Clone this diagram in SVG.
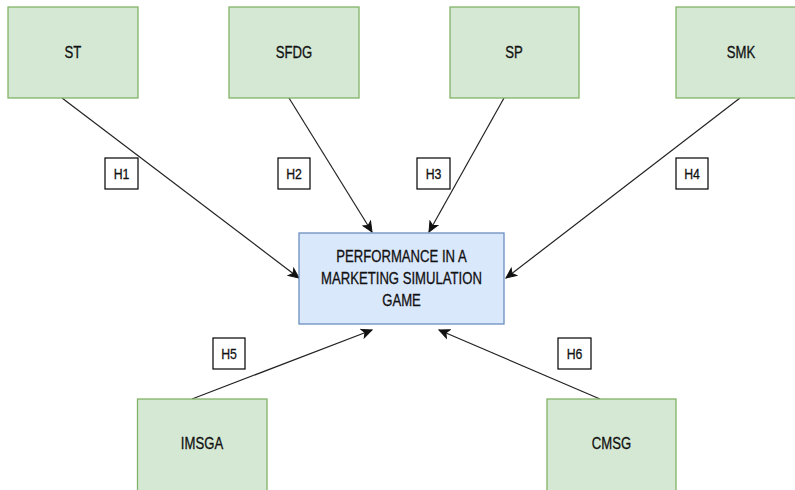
<svg xmlns="http://www.w3.org/2000/svg" width="795" height="490" viewBox="0 0 795 490">
  <style>
    .src { fill: #d5e8d4; stroke: #82b366; stroke-width: 1.3; }
    .tgt { fill: #dae8fc; stroke: #6c8ebf; stroke-width: 1.3; }
    .tag { fill: #ffffff; stroke: #000000; stroke-width: 1.2; }
    .lbl { font-family: "Liberation Sans", Arial, sans-serif; font-size: 16px; fill: #111111; stroke: #111111; stroke-width: 0.3; text-anchor: middle; dominant-baseline: central; }
    .hl { font-family: "Liberation Sans", Arial, sans-serif; font-size: 15px; fill: #111111; stroke: #111111; stroke-width: 0.3; text-anchor: middle; dominant-baseline: central; }
    .edge { stroke: #222222; stroke-width: 1.2; fill: none; marker-end: url(#arrow); }
  </style>
  <defs>
    <marker id="arrow" markerUnits="userSpaceOnUse" markerWidth="12" markerHeight="12" viewBox="0 0 12 12" refX="11" refY="6" orient="auto">
      <path d="M1,1.5 L11,6 L1,10.5 L3.5,6 Z" fill="#111111" stroke="#111111" stroke-width="1"/>
    </marker>
  </defs>
  <rect width="795" height="490" fill="#ffffff"/>

  <g id="connectors">
    <line class="edge" x1="62" y1="98" x2="299" y2="278"/>
    <line class="edge" x1="289" y1="98" x2="372" y2="232"/>
    <line class="edge" x1="504" y1="98" x2="429" y2="232"/>
    <line class="edge" x1="740" y1="98" x2="506" y2="278"/>
    <line class="edge" x1="192" y1="399" x2="372" y2="330"/>
    <line class="edge" x1="600" y1="399" x2="439" y2="330"/>
  </g>

  <!-- labels are set in a condensed face: horizontal scale 0.82 about the text centre -->
  <g id="node-st">
    <rect class="src" x="8" y="7" width="130" height="91"/>
    <text class="lbl" transform="translate(73 53) scale(0.82 1)">ST</text>
  </g>
  <g id="node-sfdg">
    <rect class="src" x="229" y="7" width="130" height="91"/>
    <text class="lbl" transform="translate(294 53) scale(0.82 1)">SFDG</text>
  </g>
  <g id="node-sp">
    <rect class="src" x="450" y="7" width="129" height="91"/>
    <text class="lbl" transform="translate(514 53) scale(0.82 1)">SP</text>
  </g>
  <g id="node-smk">
    <rect class="src" x="676" y="7" width="130" height="91"/>
    <text class="lbl" transform="translate(741 53) scale(0.82 1)">SMK</text>
  </g>

  <g id="node-performance">
    <rect class="tgt" x="299" y="233" width="205" height="91"/>
    <text class="lbl" transform="translate(401.5 257) scale(0.82 1)">PERFORMANCE IN A</text>
    <text class="lbl" transform="translate(401.5 279) scale(0.82 1)">MARKETING SIMULATION</text>
    <text class="lbl" transform="translate(401.5 301) scale(0.82 1)">GAME</text>
  </g>

  <g id="node-imsga">
    <rect class="src" x="137.5" y="399" width="129.5" height="95"/>
    <text class="lbl" transform="translate(202 444) scale(0.82 1)">IMSGA</text>
  </g>
  <g id="node-cmsg">
    <rect class="src" x="547" y="399" width="129" height="95"/>
    <text class="lbl" transform="translate(611.5 444) scale(0.82 1)">CMSG</text>
  </g>

  <g id="tag-h1">
    <rect class="tag" x="105" y="158" width="33" height="31"/>
    <text class="hl" transform="translate(121.5 174) scale(0.82 1)">H1</text>
  </g>
  <g id="tag-h2">
    <rect class="tag" x="278" y="158" width="32" height="31"/>
    <text class="hl" transform="translate(294 174) scale(0.82 1)">H2</text>
  </g>
  <g id="tag-h3">
    <rect class="tag" x="417" y="158" width="33" height="31"/>
    <text class="hl" transform="translate(433.5 174) scale(0.82 1)">H3</text>
  </g>
  <g id="tag-h4">
    <rect class="tag" x="676" y="158" width="32" height="31"/>
    <text class="hl" transform="translate(692 174) scale(0.82 1)">H4</text>
  </g>
  <g id="tag-h5">
    <rect class="tag" x="213" y="338" width="32" height="31"/>
    <text class="hl" transform="translate(229 354) scale(0.82 1)">H5</text>
  </g>
  <g id="tag-h6">
    <rect class="tag" x="558" y="338" width="33" height="31"/>
    <text class="hl" transform="translate(574.5 354) scale(0.82 1)">H6</text>
  </g>
</svg>
